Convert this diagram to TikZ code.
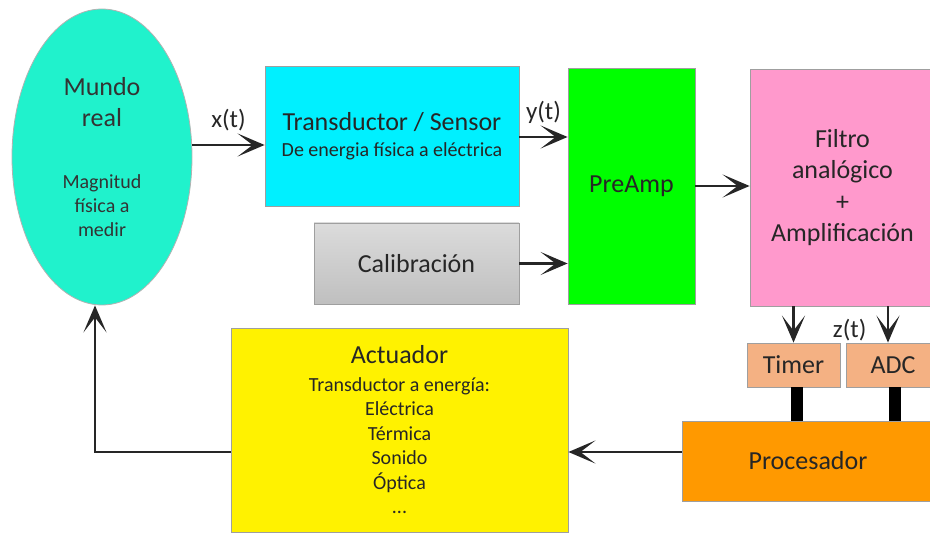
\documentclass[tikz,border=0pt]{standalone}
\usepackage{fontspec}
\setmainfont{Carlito}
\usepackage{tikz}
\usetikzlibrary{positioning,shapes.geometric,arrows.meta}
\tikzset {
    style block/.style={
        draw=gray!75,
        line width=0.8pt,
        rectangle, % Set the shape as a rectangle
        inner sep=0pt,
        align=center,
        text=black!85,
        font=\fontsize{26}{31}\selectfont,
    },
    style world/.style={
        draw=gray!60,
        line width=0.8pt,
        ellipse, % Set the shape as an ellipse
        inner sep=0pt,
        align=center,
        text=black!80,
        font=\fontsize{20}{24}\selectfont,
    },
    style link/.style={
        draw=black!85,
        line width=2.6pt,
        -{Stealth[length=27pt,width=23pt,inset=15pt]},
    },
    style bus/.style={
        draw=black,
        line width=12pt,
    },
    style signal/.style={
        font=\fontsize{25}{28}\selectfont,
        text=black!85,
    },
}
\newcommand{\bigline}{\fontsize{26}{31}\selectfont}
\definecolor{aquamar}{RGB}{32,242,204}
\definecolor{sensorcyan}{RGB}{0,240,255}
\definecolor{filterpink}{RGB}{255,153,204}
\definecolor{salmon}{RGB}{244,177,131}
\definecolor{procorange}{RGB}{255,153,0}

\begin{document}
\begin{tikzpicture}[x=1pt, y=-1pt]
\useasboundingbox (0,0) rectangle (930,534);

\node[style world, fill=aquamar, minimum width=180pt, minimum height=296pt] at (102,157) (mundo)
    {\bigline Mundo\\[7pt] \bigline real\\[38pt] Magnitud\\ física a\\ medir};
\node[style block, fill=sensorcyan, minimum width=254pt, minimum height=140pt, font=\fontsize{20}{26}\selectfont] at (392,136) (trans)
    {\fontsize{26}{26}\selectfont Transductor / Sensor\\ De energia física a eléctrica};
\node[style block, top color=gray!28, bottom color=gray!50, minimum width=205pt, minimum height=81pt] at (416.5,263.5) (calib)
    {Calibración};
\node[style block, fill=green, minimum width=127pt, minimum height=236pt] at (631.5,186) (preamp)
    {PreAmp};
\node[style block, fill=filterpink, minimum width=185pt, minimum height=237pt, font=\fontsize{26}{31.5}\selectfont] at (842.5,187.5) (filtro)
    {Filtro\\ analógico\\ +\\ Amplificación};
\node[style block, fill=salmon, minimum width=93pt, minimum height=44pt] at (793.5,365) (timer)
    {Timer};
\node[style block, fill=salmon, minimum width=94pt, minimum height=44pt] at (893,365) (adc)
    {ADC};
\node[style block, fill=procorange, minimum width=252pt, minimum height=80pt] at (808,461) (proc)
    {Procesador};
\node[style block, fill=yellow, minimum width=337pt, minimum height=204pt, font=\fontsize{20}{24.5}\selectfont] at (399.5,430) (act)
    {\fontsize{26}{29}\selectfont Actuador\\[3pt] Transductor a energía:\\ Eléctrica\\ Térmica\\ Sonido\\ Óptica\\ ...};

\draw[style link] ([yshift=12pt]mundo.east) -- node[style signal, midway, above=9pt] {x(t)} ([yshift=12pt]mundo.east -| trans.west);
\draw[style link] ([yshift=-1pt]trans.east) -- node[style signal, midway, above=9pt] {y(t)} ([yshift=-1pt]trans.east -| preamp.west);
\draw[style link] (calib.east) -- (calib.east -| preamp.west);
\draw[style link] (preamp.east) -- (preamp.east -| filtro.west);
\draw[style link] (timer.north |- filtro.south) -- (timer.north);
\draw[style link] ([xshift=-5pt]adc.north |- filtro.south) -- node[style signal, pos=0.65, left=17pt] {z(t)} ([xshift=-5pt]adc.north);
\draw[style bus] ([xshift=3.5pt]timer.south) -- ([xshift=3.5pt]timer.south |- proc.north);
\draw[style bus] ([xshift=2pt]adc.south) -- ([xshift=2pt]adc.south |- proc.north);
\draw[style link] ([yshift=9pt]proc.west) -- ([yshift=9pt]proc.west -| act.east);
\draw[style link] ([yshift=-22pt]act.west) -| ([xshift=-7pt]mundo.south);
\end{tikzpicture}
\end{document}
